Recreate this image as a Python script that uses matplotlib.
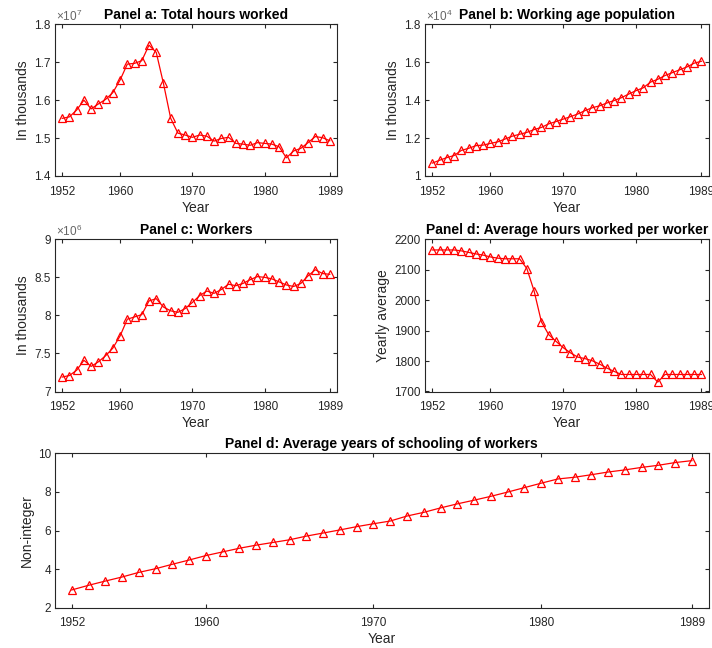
"""
Five-panel figure: hours worked, population, workers, hours per worker
and years of schooling, 1952-1989.
"""
import numpy as np
import matplotlib
matplotlib.use("Agg")
import matplotlib.pyplot as plt

plt.rcParams["font.family"] = ["Liberation Sans", "DejaVu Sans"]
plt.rcParams["mathtext.fontset"] = "custom"
plt.rcParams["mathtext.rm"] = "Liberation Sans"
plt.rcParams["mathtext.it"] = "Liberation Sans:italic"

years = list(range(1952, 1990))

# values shown in units of the axis multiplier (x10^7, x10^4, x10^6)
total_hours = [1.552, 1.556, 1.574, 1.600, 1.577, 1.590, 1.602, 1.620, 1.653, 1.695,
               1.697, 1.704, 1.745, 1.726, 1.644, 1.552, 1.513, 1.508, 1.502, 1.508,
               1.505, 1.492, 1.499, 1.502, 1.486, 1.484, 1.481, 1.488, 1.486, 1.484,
               1.477, 1.448, 1.466, 1.473, 1.488, 1.504, 1.501, 1.493]
work_age_pop = [1.068, 1.083, 1.097, 1.108, 1.135, 1.146, 1.160, 1.163, 1.172, 1.180,
                1.195, 1.210, 1.220, 1.230, 1.245, 1.256, 1.275, 1.287, 1.300, 1.313,
                1.327, 1.345, 1.360, 1.370, 1.385, 1.398, 1.413, 1.432, 1.450, 1.465,
                1.495, 1.510, 1.530, 1.545, 1.560, 1.575, 1.595, 1.605]
workers = [7.19, 7.21, 7.28, 7.41, 7.33, 7.39, 7.47, 7.57, 7.73, 7.95,
           7.98, 8.01, 8.19, 8.22, 8.11, 8.06, 8.04, 8.09, 8.17, 8.26,
           8.32, 8.29, 8.34, 8.41, 8.39, 8.42, 8.47, 8.51, 8.50, 8.48,
           8.44, 8.40, 8.38, 8.42, 8.52, 8.60, 8.55, 8.54]
hours_per_worker = [2165, 2165, 2165, 2165, 2162, 2157, 2152, 2148, 2142, 2138,
                    2136, 2136, 2136, 2104, 2030, 1929, 1887, 1865, 1844, 1827,
                    1813, 1808, 1801, 1790, 1777, 1766, 1756, 1756, 1756, 1756,
                    1756, 1731, 1756, 1756, 1756, 1756, 1756, 1756]
schooling = [2.92, 3.16, 3.38, 3.59, 3.83, 4.02, 4.25, 4.47, 4.70, 4.89,
             5.08, 5.24, 5.38, 5.52, 5.71, 5.87, 6.03, 6.20, 6.35, 6.49,
             6.75, 6.94, 7.17, 7.38, 7.57, 7.77, 7.99, 8.22, 8.45, 8.67,
             8.76, 8.89, 9.03, 9.14, 9.27, 9.38, 9.52, 9.62]

xticks = [1952, 1960, 1970, 1980, 1989]

W, H = 712, 648
fig = plt.figure(figsize=(W / 100, H / 100), dpi=100)


def make_axes(x0, x1, y0, y1):
    return fig.add_axes([x0 / W, 1 - y1 / H, (x1 - x0) / W, (y1 - y0) / H])


panels = [
    # (box px, data, title, ylabel, yticks, multiplier)
    ((55, 337, 24.3, 176), total_hours, "Panel a: Total hours worked", "In thousands",
     [1.4, 1.5, 1.6, 1.7, 1.8], "7"),
    ((425, 708.7, 24.3, 176), work_age_pop, "Panel b: Working age population", "In thousands",
     [1.0, 1.2, 1.4, 1.6, 1.8], "4"),
    ((55, 337, 239.3, 391.5), workers, "Panel c: Workers", "In thousands",
     [7, 7.5, 8, 8.5, 9], "6"),
    ((425, 708.7, 239.3, 391.5), hours_per_worker, "Panel d: Average hours worked per worker",
     "Yearly average", [1700, 1800, 1900, 2000, 2100, 2200], None),
    ((55, 708.7, 453.3, 607.7), schooling, "Panel d: Average years of schooling of workers",
     "Non-integer", [2, 4, 6, 8, 10], None),
]

for box, vals, title, ylabel, yticks, mult in panels:
    ax = make_axes(*box)
    ax.plot(years, vals, color="red", lw=0.9, marker="^", ms=6,
            mfc="none", mec="red", mew=0.9)
    ax.set_xlim(1951, 1990)
    ax.set_ylim(yticks[0], yticks[-1])
    ax.set_xticks(xticks)
    ax.set_yticks(yticks)
    ax.set_yticklabels([f"{t:g}" for t in yticks])
    ax.tick_params(direction="in", length=3, width=0.8, top=True, right=True,
                   labelsize=8.5, colors="#262626")
    ax.tick_params(axis="x", pad=7)
    ax.tick_params(axis="y", pad=3)
    for sp in ax.spines.values():
        sp.set_color("#262626")
        sp.set_linewidth(0.8)
    ax.set_title(title, fontsize=10, fontweight="bold", pad=4)
    ax.set_xlabel("Year", fontsize=10, color="#262626", labelpad=2)
    ax.set_ylabel(ylabel, fontsize=10, color="#262626", labelpad=3)
    if mult:
        ax.text(0.005, 1.005, r"$\times10^{%s}$" % mult, transform=ax.transAxes,
                ha="left", va="bottom", fontsize=8.5, color="#666666")

fig.savefig("out.png", dpi=100)
